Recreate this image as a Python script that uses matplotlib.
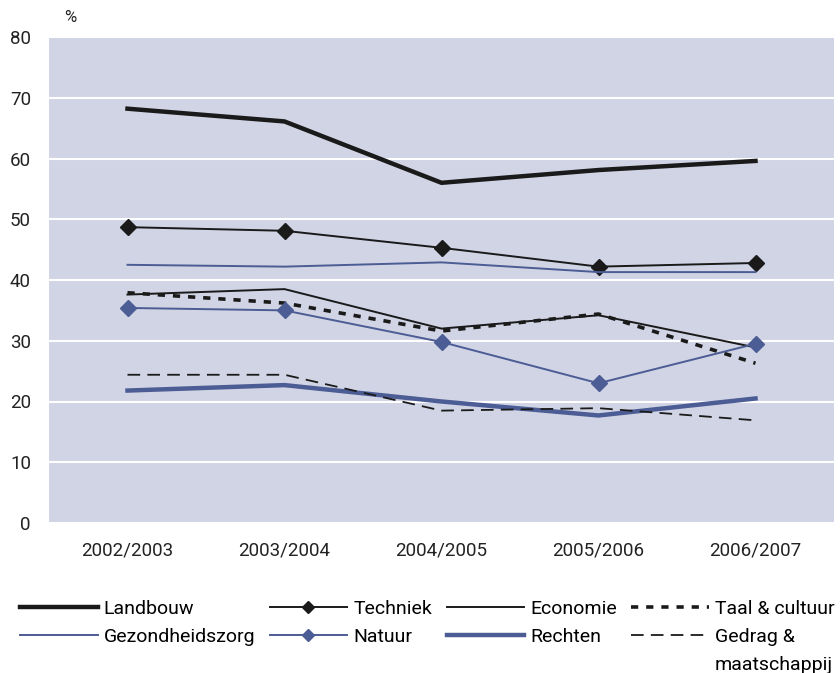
import matplotlib.pyplot as plt

plt.rcParams['font.family'] = ['Roboto', 'DejaVu Sans']

years = ['2002/2003', '2003/2004', '2004/2005', '2005/2006', '2006/2007']
landbouw = [68.2, 66.1, 56.0, 58.1, 59.6]
techniek = [48.7, 48.1, 45.3, 42.2, 42.8]
economie = [37.6, 38.5, 32.0, 34.2, 28.9]
taal = [37.9, 36.2, 31.6, 34.4, 26.3]
gezondheidszorg = [42.5, 42.2, 42.9, 41.3, 41.3]
natuur = [35.4, 35.0, 29.8, 23.0, 29.5]
rechten = [21.8, 22.7, 20.0, 17.7, 20.5]
gedrag = [24.4, 24.4, 18.5, 18.9, 16.9]

blue = '#4c5c94'
black = '#1a1a1a'

fig = plt.figure(figsize=(8.4, 6.73), dpi=100)
ax = fig.add_axes([49 / 840, 1 - 523 / 673, 785 / 840, 486 / 673])
ax.set_facecolor('#d0d4e4')

x = range(len(years))
l1, = ax.plot(x, landbouw, color=black, lw=3.2, label='Landbouw')
l2, = ax.plot(x, techniek, color=black, lw=1.4, marker='D', ms=8, label='Techniek')
l3, = ax.plot(x, economie, color=black, lw=1.4, label='Economie')
l4, = ax.plot(x, taal, color=black, lw=2.6, dashes=(2, 2.2), label='Taal & cultuur')
l5, = ax.plot(x, gezondheidszorg, color=blue, lw=1.4, label='Gezondheidszorg')
l6, = ax.plot(x, natuur, color=blue, lw=1.4, marker='D', ms=8, label='Natuur')
l7, = ax.plot(x, rechten, color=blue, lw=3.2, label='Rechten')
l8, = ax.plot(x, gedrag, color=black, lw=1.3, dashes=(7, 4), label='Gedrag &')

ax.set_xlim(-0.5, 4.5)
ax.set_ylim(0, 80)
ax.set_yticks(range(0, 81, 10))
ax.set_xticks(list(x))
ax.set_xticklabels(years)
ax.yaxis.grid(True, color='white', lw=1.5)
ax.set_axisbelow(True)
for s in ax.spines.values():
    s.set_visible(False)
ax.tick_params(length=0, labelsize=13.5, colors='#222222')
ax.tick_params(axis='x', pad=13)
ax.tick_params(axis='y', pad=13)
fig.text(70 / 840, 1 - 18 / 673, '%', fontsize=12, ha='center', va='center', color='#222222')

handles = [l1, l5, l2, l6, l3, l7, l4, l8]
leg = fig.legend(handles=handles, labels=[h.get_label() for h in handles],
                 ncol=4, loc='upper left', bbox_to_anchor=(12 / 840, 1 - 592 / 673),
                 frameon=False, handlelength=4.0, handletextpad=0.3,
                 columnspacing=0.75, labelspacing=0.5, borderaxespad=0,
                 markerscale=0.75, prop={'size': 14})

# second line of the last legend label, aligned under "Gedrag &"
fig.canvas.draw()
bb = leg.get_texts()[7].get_window_extent().transformed(fig.transFigure.inverted())
fig.text(bb.x0, bb.y0 - 0.042, 'maatschappij', fontsize=14, ha='left', va='bottom')

fig.savefig('out.png', dpi=100)
